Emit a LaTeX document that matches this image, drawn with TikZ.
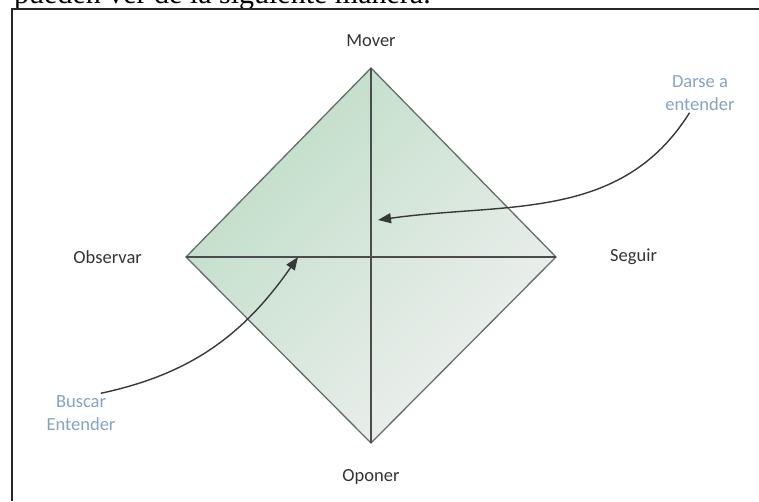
\documentclass[tikz,border=0pt]{standalone}
\usepackage{fontspec}
\setmainfont{Carlito}
\newfontfamily\pageserif{Liberation Serif}
\usepackage{xcolor}
\usetikzlibrary{arrows.meta, positioning}

\definecolor{leafgreen}{RGB}{190,221,199}
\definecolor{paleash}{RGB}{240,240,240}
\definecolor{hintblue}{RGB}{132,163,193}
\definecolor{edgegray}{RGB}{100,110,104}

\begin{document}
\begin{tikzpicture}[x=1pt, y=1pt, node distance=18pt, every node/.style={font=\fontsize{18.5}{23}\selectfont}]
    % Styles
    \tikzstyle{pole} = [text=black!80, inner sep=2pt]
    \tikzstyle{hint} = [text=hintblue, align=center, inner sep=2pt]
    \tikzstyle{crossline} = [draw=black!70, line width=1.8pt]
    \tikzstyle{pointer} = [-{Triangle[length=13pt, width=10pt]}, draw=black!78, line width=1.4pt]

    \useasboundingbox (0,0) rectangle (759,-501);
    \clip (0,0) rectangle (759,-501);

    % Page
    \node[anchor=base west, inner sep=0pt, font=\pageserif\fontsize{30}{30}\selectfont] (caption) at (14,-3) {pueden ver de la siguiente manera.};
    \draw[black!85, line width=1.4pt] (759,-9) -- (12,-9) -- (12,-501);

    % Diamond
    \coordinate (top) at (371,-68);
    \coordinate (left) at (186,-257);
    \coordinate (right) at (556,-257);
    \coordinate (bottom) at (371,-443);
    \path[left color=leafgreen, right color=paleash, shading angle=45, draw=edgegray, line width=1.3pt]
        (top) -- (right) -- (bottom) -- (left) -- cycle;
    \draw[crossline] (top) -- (bottom);
    \draw[crossline] (left) -- (right);

    % Poles
    \node[pole, above=19pt of top] (mover) {Mover};
    \node[pole, left=42pt of left] (observar) {Observar};
    \node[pole, right=52pt of right] (seguir) {Seguir};
    \node[pole, below=24pt of bottom] (oponer) {Oponer};

    % Hints
    \node[hint] (darse) at (700,-93) {Darse a\\entender};
    \node[hint] (buscar) at (81,-413) {Buscar\\Entender};
    \coordinate (darsetip) at (378,-220);
    \coordinate (buscartip) at (298,-257);

    % Arrows
    \draw[pointer] (darse.-118) to[out=-122, in=8] (darsetip);
    \draw[pointer] (buscar.45) to[out=12, in=235] (buscartip);
\end{tikzpicture}
\end{document}
